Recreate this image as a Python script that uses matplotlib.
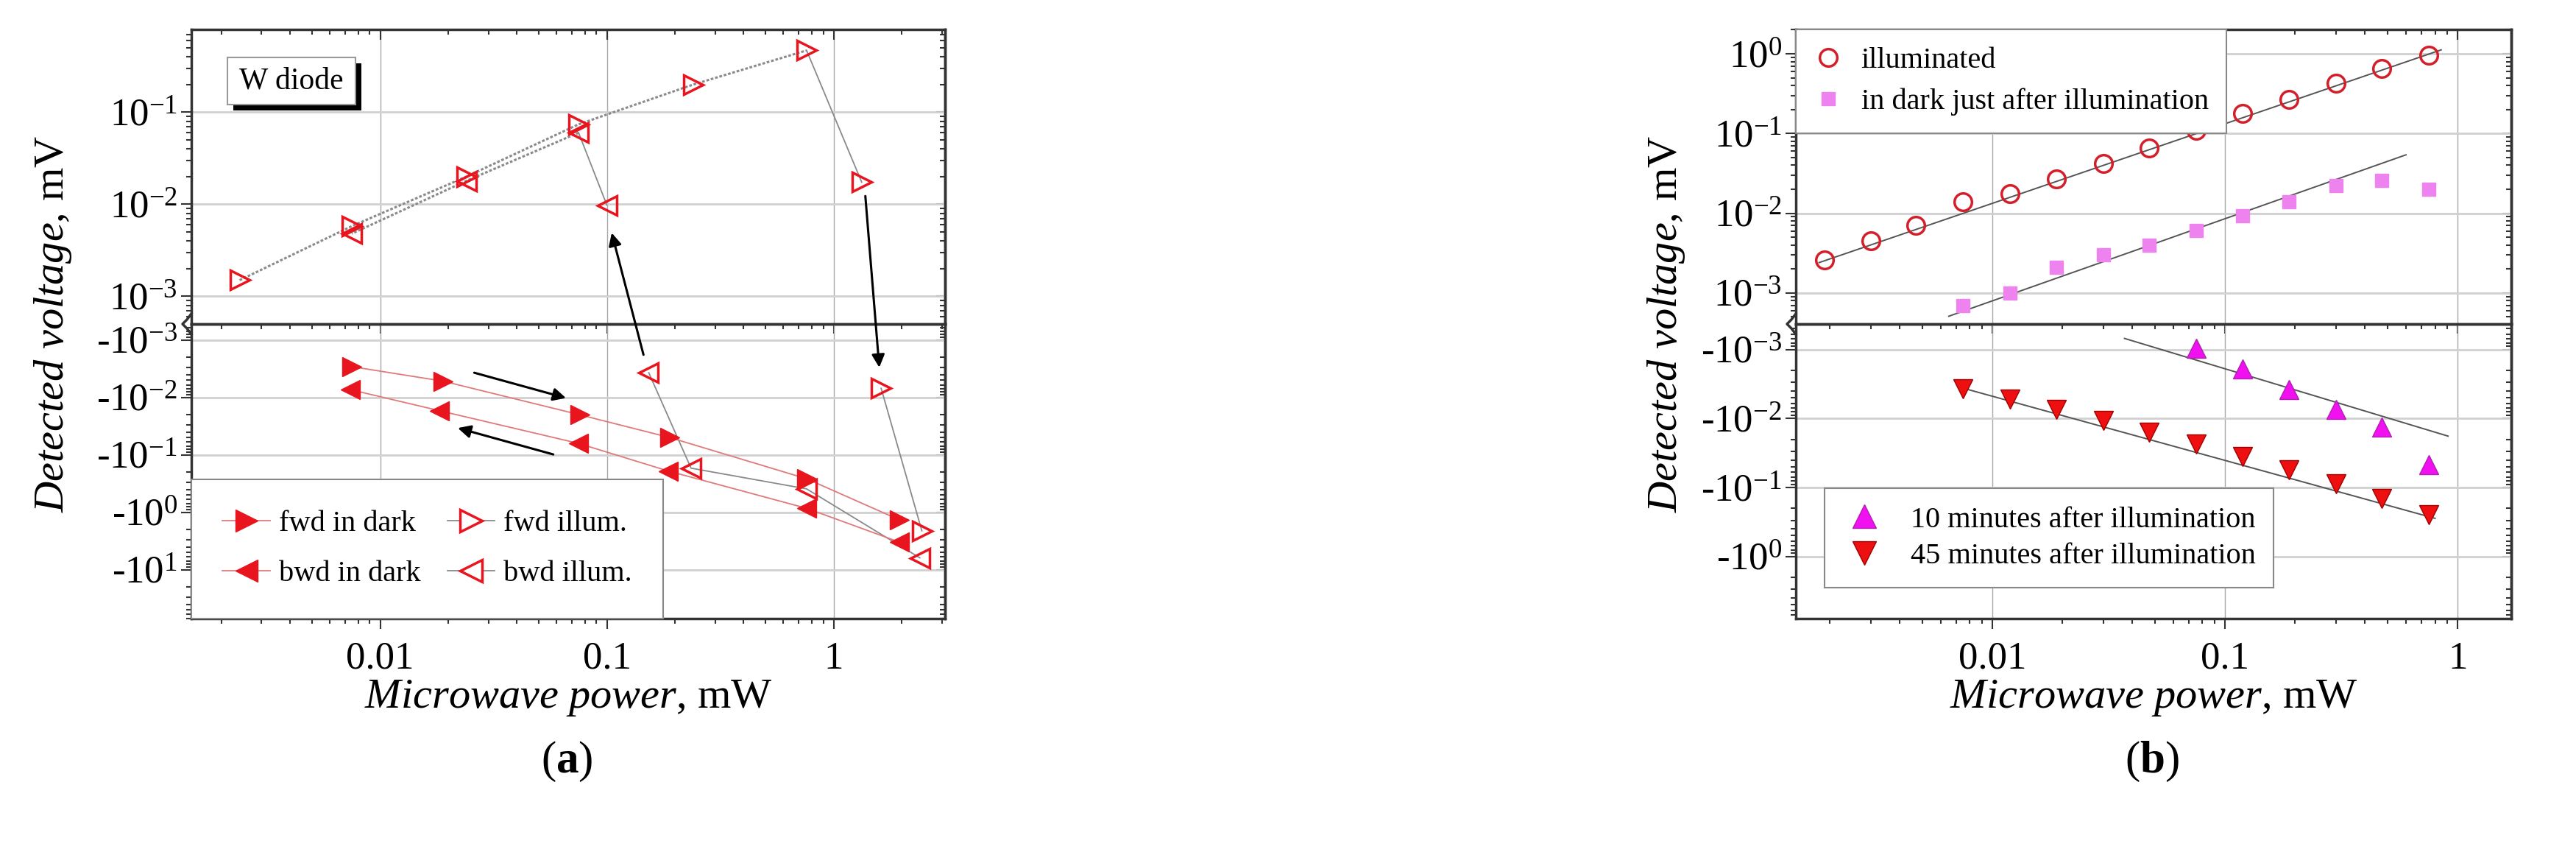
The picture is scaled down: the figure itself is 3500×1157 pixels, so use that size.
import matplotlib
matplotlib.use("Agg")
import matplotlib.pyplot as plt
import numpy as np
from matplotlib.lines import Line2D
from matplotlib.patches import Rectangle, ConnectionPatch
from matplotlib.ticker import LogLocator, FixedLocator, FuncFormatter, NullFormatter

plt.rcParams['font.family'] = ['Liberation Serif', 'DejaVu Serif']
plt.rcParams['mathtext.fontset'] = 'custom'
plt.rcParams['mathtext.rm'] = 'Liberation Serif'
plt.rcParams['mathtext.it'] = 'Liberation Serif:italic'
plt.rcParams['mathtext.bf'] = 'Liberation Serif:bold'

# ------------------------------------------------------------
# (a) W diode: power sweep forward / backward, dark and illuminated
# negative voltages go to the lower (inverted log) axis
# ------------------------------------------------------------
fd_p = [0.0075, 0.019, 0.076, 0.19, 0.76, 1.95]
fd_v = [-0.0029, -0.0052, -0.020, -0.050, -0.26, -1.35]
bd_p = [1.95, 0.76, 0.186, 0.075, 0.0183, 0.0074]
bd_v = [-3.3, -0.85, -0.19, -0.063, -0.017, -0.0073]
fi_p = [0.0024, 0.0075, 0.024, 0.075, 0.24, 0.76, 1.33, 1.62, 2.45]
fi_v = [0.0015, 0.0058, 0.020, 0.074, 0.20, 0.47, 0.0174, -0.0069, -2.1]
bi_p = [2.4, 0.76, 0.235, 0.153, 0.1, 0.075, 0.024, 0.0075]
bi_v = [-6.2, -0.39, -0.17, -0.0037, 0.0098, 0.06, 0.018, 0.0048]

# arrows in (a): (x0, |y0|, x1, |y1|)
arrow_fwd = (0.026, 0.0037, 0.066, 0.0102)
arrow_bwd = (0.058, 0.098, 0.022, 0.034)
arrow_up = (0.145, 0.0018, 0.105, 0.0049)      # lower -> upper
arrow_down = (1.38, 0.0123, 1.59, 0.0030)      # upper -> lower

# ------------------------------------------------------------
# (b) relaxation after illumination
# ------------------------------------------------------------
ill_p = [0.0019, 0.003, 0.0047, 0.0075, 0.0119, 0.0189, 0.03, 0.0473, 0.075, 0.119, 0.189, 0.3, 0.473, 0.75]
ill_v = [0.0026, 0.0045, 0.0071, 0.014, 0.0175, 0.027, 0.042, 0.066, 0.11, 0.18, 0.27, 0.43, 0.65, 0.95]
dark_p = [0.0075, 0.0119, 0.0189, 0.03, 0.0473, 0.075, 0.119, 0.189, 0.3, 0.473, 0.75]
dark_v = [0.0007, 0.001, 0.0021, 0.003, 0.004, 0.0061, 0.0092, 0.014, 0.022, 0.026, 0.02]
m10_p = [0.075, 0.119, 0.189, 0.3, 0.473, 0.75]
m10_v = [-0.00095, -0.0019, -0.0038, -0.0074, -0.0134, -0.047]
m45_p = [0.0075, 0.0119, 0.0189, 0.03, 0.0473, 0.075, 0.119, 0.189, 0.3, 0.473, 0.75]
m45_v = [-0.0037, -0.0052, -0.0074, -0.0106, -0.0158, -0.0237, -0.036, -0.055, -0.089, -0.145, -0.25]

# straight-line fits (end points)
fit_ill_p, fit_ill_v = [0.0018, 0.85], [0.0024, 1.12]
fit_dark_p, fit_dark_v = [0.0065, 0.6], [0.00051, 0.054]
fit_m10_p, fit_m10_v = [0.037, 0.91], [-0.00069, -0.018]
fit_m45_p, fit_m45_v = [0.0072, 0.8], [-0.0035, -0.28]

RED = '#e8141e'
LINE_RED = '#e07a7a'
GRAY = '#8a8a8a'
SPINE = '#333333'

TICK_FS = 38
LABEL_FS = 42
LEG_FS = 29


def pos_fmt(v, _):
    return r'$10^{%d}$' % int(round(np.log10(v)))


def neg_fmt(v, _):
    return r'-$10^{%d}$' % int(round(np.log10(v)))


def x_fmt(v, _):
    return '%g' % v


def mirror(axis, sec):
    axis.set_major_locator(LogLocator(base=10, numticks=30))
    axis.set_minor_locator(LogLocator(base=10, subs=np.arange(2, 10), numticks=30))
    axis.set_major_formatter(NullFormatter())
    axis.set_minor_formatter(NullFormatter())
    sec.tick_params(which='both', direction='in', width=1.5, color=SPINE)
    sec.tick_params(which='major', length=9)
    sec.tick_params(which='minor', length=5)
    for s in sec.spines.values():
        s.set_color(SPINE)
        s.set_linewidth(2.5)


def style(ax, ylim, formatter, decades, show_x):
    ax.set_xscale('log')
    ax.set_yscale('log')
    ax.set_ylim(ylim)
    ax.yaxis.set_major_locator(FixedLocator([10.0 ** d for d in decades]))
    ax.yaxis.set_minor_locator(LogLocator(base=10, subs=np.arange(2, 10), numticks=30))
    ax.yaxis.set_major_formatter(FuncFormatter(formatter))
    ax.yaxis.set_minor_formatter(NullFormatter())
    ax.xaxis.set_major_locator(FixedLocator([0.001, 0.01, 0.1, 1, 10]))
    ax.xaxis.set_minor_locator(LogLocator(base=10, subs=np.arange(2, 10), numticks=30))
    ax.xaxis.set_major_formatter(FuncFormatter(x_fmt))
    ax.xaxis.set_minor_formatter(NullFormatter())
    ax.xaxis.grid(True, which='major', color='#a8a8a8', lw=1.0)
    ax.yaxis.grid(True, which='major', color='#d0d0d0', lw=2.0)
    ax.set_axisbelow(True)
    for s in ax.spines.values():
        s.set_color(SPINE)
        s.set_linewidth(2.5)
    ax.tick_params(which='both', direction='out', width=1.5, color=SPINE,
                   labelsize=TICK_FS, right=False, top=False)
    ax.tick_params(which='major', length=10)
    ax.tick_params(which='minor', length=5)
    if show_x:
        ax.tick_params(axis='x', pad=12)
        sx = ax.secondary_xaxis('top')
        mirror(sx.xaxis, sx)
    else:
        ax.tick_params(axis='x', which='both', bottom=False, labelbottom=False,
                       top=True, direction='in')
    sy = ax.secondary_yaxis('right')
    mirror(sy.yaxis, sy)


def break_mark(fig, x_px, y_px):
    xs = np.array([0, -6, -12, -6, 0]) + x_px
    ys = np.array([-14, -6, 0, 6, 14]) + y_px
    fig.add_artist(Line2D(xs / 3500, 1 - ys / 1157, color=SPINE, lw=2.5))


def arrow_between(fig, axA, axB, a):
    con = ConnectionPatch(xyA=(a[0], a[1]), coordsA=axA.transData,
                          xyB=(a[2], a[3]), coordsB=axB.transData,
                          arrowstyle='-|>', mutation_scale=26, lw=2.2, color='black')
    fig.add_artist(con)


def frame(lg):
    lg.get_frame().set_edgecolor('#888888')
    lg.get_frame().set_linewidth(1.5)
    lg.get_frame().set_alpha(1)


fig = plt.figure(figsize=(35, 11.57), dpi=100)

# ---------------- panel (a) ----------------
axUa = fig.add_axes([0.07429, 0.61971, 0.29257, 0.34572])
axLa = fig.add_axes([0.07429, 0.27398, 0.29257, 0.34572])
for ax in (axUa, axLa):
    ax.set_xscale('log')
    ax.set_xlim(0.00147, 3.1)
style(axUa, (10 ** -3.30, 10 ** -0.10), pos_fmt, [-3, -2, -1], False)
style(axLa, (10 ** 1.85, 10 ** -3.28), neg_fmt, [-3, -2, -1, 0, 1], True)
axUa.spines['bottom'].set_visible(False)

fi_p_a, fi_v_a = np.array(fi_p), np.array(fi_v)
bi_p_a, bi_v_a = np.array(bi_p), np.array(bi_v)

# connecting lines
axUa.plot(fi_p_a[:6], fi_v_a[:6], color=GRAY, ls=(0, (1.2, 0.8)), lw=2.2, zorder=2)
axUa.plot(fi_p_a[5:7], fi_v_a[5:7], color=GRAY, lw=1.3, zorder=2)
axUa.plot(bi_p_a[5:], bi_v_a[5:], color=GRAY, ls=(0, (1.2, 0.8)), lw=2.2, zorder=2)
axUa.plot(bi_p_a[4:6], bi_v_a[4:6], color=GRAY, lw=1.3, zorder=2)
axLa.plot(fi_p_a[7:], -fi_v_a[7:], color=GRAY, lw=1.3, zorder=2)
axLa.plot(bi_p_a[:4], -bi_v_a[:4], color=GRAY, lw=1.3, zorder=2)
axLa.plot(fd_p, -np.array(fd_v), color=LINE_RED, lw=1.3, zorder=2)
axLa.plot(bd_p, -np.array(bd_v), color=LINE_RED, lw=1.3, zorder=2)

# markers
mk_open = dict(ls='none', mfc='none', mec=RED, mew=2.5, ms=19, zorder=4)
mk_fill = dict(ls='none', mfc=RED, mec=RED, mew=1, ms=19, zorder=4)
for p, v, m, kw in ((fi_p_a, fi_v_a, '>', mk_open), (bi_p_a, bi_v_a, '<', mk_open)):
    pos = v > 0
    axUa.plot(p[pos], v[pos], marker=m, **kw)
    axLa.plot(p[~pos], -v[~pos], marker=m, **kw)
axLa.plot(fd_p, -np.array(fd_v), marker='>', **mk_fill)
axLa.plot(bd_p, -np.array(bd_v), marker='<', **mk_fill)

# arrows
for a in (arrow_fwd, arrow_bwd):
    axLa.annotate('', xy=(a[2], a[3]), xytext=(a[0], a[1]),
                  arrowprops=dict(arrowstyle='-|>', color='black', lw=2.2,
                                  mutation_scale=26, shrinkA=0, shrinkB=0))
arrow_between(fig, axLa, axUa, arrow_up)
arrow_between(fig, axUa, axLa, arrow_down)

# "W diode" box with drop shadow
axUa.add_patch(Rectangle((0.056, 0.725), 0.17, 0.16, transform=axUa.transAxes,
                         fc='black', ec='none', zorder=5))
axUa.add_patch(Rectangle((0.048, 0.745), 0.17, 0.16, transform=axUa.transAxes,
                         fc='white', ec='#999999', lw=1.5, zorder=6))
axUa.text(0.133, 0.825, 'W diode', transform=axUa.transAxes, ha='center', va='center',
          fontsize=30, zorder=7)

leg_a = [
    Line2D([], [], color=LINE_RED, lw=1.3, marker='>', mfc=RED, mec=RED, ms=19),
    Line2D([], [], color=LINE_RED, lw=1.3, marker='<', mfc=RED, mec=RED, ms=19),
    Line2D([], [], color=GRAY, lw=1.3, marker='>', mfc='white', mec=RED, mew=2.5, ms=19),
    Line2D([], [], color=GRAY, lw=1.3, marker='<', mfc='white', mec=RED, mew=2.5, ms=19),
]
lg = axLa.legend(leg_a, ['fwd in dark', 'bwd in dark', 'fwd illum.', 'bwd illum.'],
                 ncol=2, loc='lower left', bbox_to_anchor=(0, 0),
                 borderaxespad=0, fontsize=LEG_FS, frameon=True, fancybox=False,
                 borderpad=1.05, labelspacing=0.75, handlelength=1.6, handletextpad=0.3,
                 columnspacing=0.9, markerscale=1.15)
frame(lg)

break_mark(fig, 260, 440)

# ---------------- panel (b) ----------------
axUb = fig.add_axes([0.69714, 0.61971, 0.27771, 0.34572])
axLb = fig.add_axes([0.69714, 0.27398, 0.27771, 0.34572])
for ax in (axUb, axLb):
    ax.set_xscale('log')
    ax.set_xlim(0.00143, 1.70)
style(axUb, (10 ** -3.39, 10 ** 0.305), pos_fmt, [-3, -2, -1, 0], False)
style(axLb, (10 ** 0.90, 10 ** -3.37), neg_fmt, [-3, -2, -1, 0], True)
axUb.spines['bottom'].set_visible(False)

axUb.plot(fit_ill_p, fit_ill_v, color='#555555', lw=1.4, zorder=2)
axUb.plot(fit_dark_p, fit_dark_v, color='#555555', lw=1.4, zorder=2)
axLb.plot(fit_m10_p, -np.array(fit_m10_v), color='#555555', lw=1.4, zorder=2)
axLb.plot(fit_m45_p, -np.array(fit_m45_v), color='#555555', lw=1.4, zorder=2)

h_ill, = axUb.plot(ill_p, ill_v, ls='none', marker='o', mfc='none', mec='#d41f2a',
                   mew=2.5, ms=17, zorder=4)
h_dark, = axUb.plot(dark_p, dark_v, ls='none', marker='s', mfc='#ee82ee', mec='#ee82ee',
                    ms=13, zorder=4)
h_m10, = axLb.plot(m10_p, -np.array(m10_v), ls='none', marker='^', mfc='#f010f0',
                   mec='#b020b0', mew=1, ms=19, zorder=4)
h_m45, = axLb.plot(m45_p, -np.array(m45_v), ls='none', marker='v', mfc='#ee1010',
                   mec='#a00000', mew=1, ms=19, zorder=4)

lgb1 = axUb.legend([h_ill, h_dark], ['illuminated', 'in dark just after illumination'],
                   loc='upper left', borderaxespad=0, fontsize=LEG_FS, frameon=True,
                   fancybox=False, borderpad=0.6, labelspacing=0.45, handlelength=1.0,
                   handletextpad=0.6)
lgb2 = axLb.legend([h_m10, h_m45], ['10 minutes after illumination', '45 minutes after illumination'],
                   loc='lower left', bbox_to_anchor=(0.04, 0.105), borderaxespad=0,
                   fontsize=LEG_FS, frameon=True, fancybox=False, borderpad=0.6,
                   labelspacing=0.3, handlelength=1.5, handletextpad=0.8, markerscale=1.25)
frame(lgb1)
frame(lgb2)

break_mark(fig, 2440, 440)

# ---------------- labels ----------------
for ax in (axLa, axLb):
    ax.set_xlabel(r'$\mathit{Microwave\ power}$, mW', fontsize=LABEL_FS, labelpad=2)
fig.text(0.0206, 0.62, r'$\mathit{Detected\ voltage}$, mV', rotation=90,
         ha='center', va='center', fontsize=LABEL_FS)
fig.text(0.647, 0.62, r'$\mathit{Detected\ voltage}$, mV', rotation=90,
         ha='center', va='center', fontsize=LABEL_FS)
fig.text(0.22, 0.106, r'($\mathbf{a}$)', ha='center', va='center', fontsize=44)
fig.text(0.8354, 0.106, r'($\mathbf{b}$)', ha='center', va='center', fontsize=44)

fig.savefig('out.png', dpi=100, facecolor='white')
